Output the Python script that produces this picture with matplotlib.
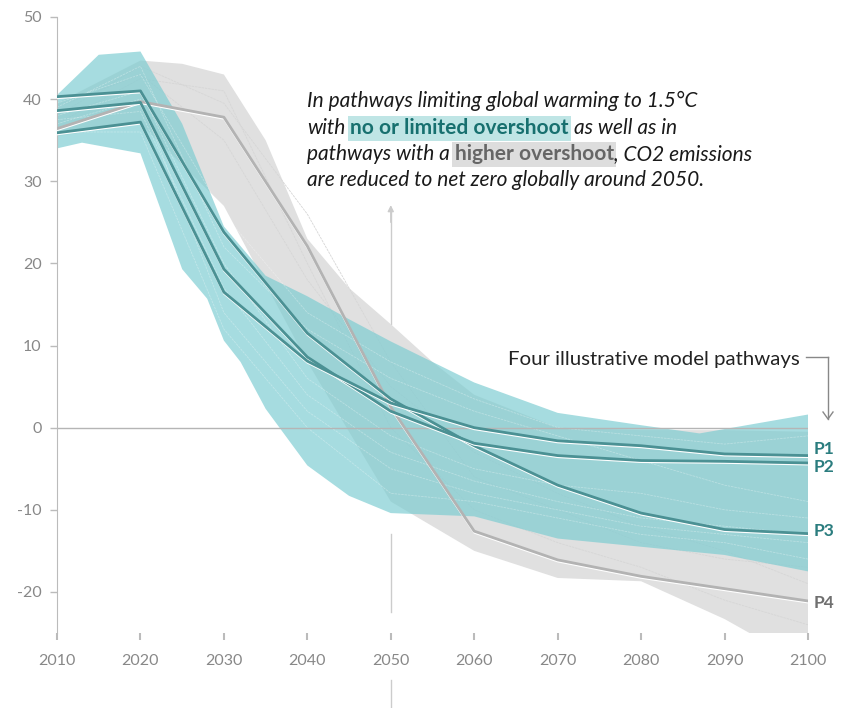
import matplotlib
matplotlib.use("Agg")
import matplotlib.pyplot as plt
import matplotlib.patheffects as pe
import numpy as np

plt.rcParams['font.family'] = ['Lato', 'DejaVu Sans']
plt.rcParams['axes.unicode_minus'] = False

# --- data (GtCO2 / yr) ---
years = [2010, 2020, 2030, 2040, 2050, 2060, 2070, 2080, 2090, 2100]

p1 = [35.9, 37.2, 16.5, 8.1, 3.0, 0.0, -1.6, -2.2, -3.2, -3.4]
p2 = [38.6, 39.6, 19.3, 8.6, 2.0, -1.9, -3.4, -4.0, -4.1, -4.3]
p3 = [40.3, 41.0, 23.8, 11.5, 3.5, -2.2, -7.0, -10.4, -12.4, -12.9]
p4 = [36.4, 39.7, 37.8, 22.1, 2.5, -12.6, -16.1, -18.1, -19.6, -21.1]

# envelope of pathways with no or limited overshoot
teal_up_years = [2010, 2015, 2020, 2025, 2030, 2035, 2040, 2045, 2050, 2055, 2060, 2070, 2080, 2087, 2100]
teal_up = [40.5, 45.4, 45.8, 37.0, 24.5, 18.5, 16.0, 13.2, 10.5, 8.0, 5.5, 1.8, 0.3, -0.7, 1.6]
teal_lo_years = [2010, 2013, 2020, 2025, 2028, 2030, 2032, 2035, 2040, 2045, 2050, 2060, 2070, 2080, 2090, 2100]
teal_lo = [34.0, 34.7, 33.4, 19.3, 15.7, 10.6, 8.0, 2.3, -4.6, -8.3, -10.4, -10.8, -13.5, -14.5, -15.5, -17.5]

# envelope of pathways with higher overshoot
gray_up_years = [2010, 2020, 2025, 2030, 2035, 2040, 2045, 2050, 2055, 2060, 2070, 2080, 2090, 2100]
gray_up = [39.5, 44.7, 44.3, 43.0, 35.0, 23.0, 17.0, 12.6, 8.0, 4.0, 0.0, -0.3, -0.3, -0.5]
gray_lo_years = [2010, 2020, 2030, 2040, 2050, 2060, 2070, 2080, 2090, 2100]
gray_lo = [35.5, 37.0, 27.0, 8.0, -9.0, -15.0, -18.3, -18.7, -23.3, -29.0]

# a few of the faint individual pathways inside the bands
gray_faint = [
    [38.0, 44.0, 39.5, 26.0, 8.0, -6.0, -10.0, -14.0, -16.0, -17.0],
    [37.0, 42.5, 41.0, 20.0, 0.0, -10.0, -14.0, -17.0, -21.0, -24.0],
    [39.0, 43.0, 35.0, 18.0, 5.0, -3.0, -8.0, -12.0, -15.0, -19.0],
]
teal_faint = [
    [39.0, 44.0, 22.0, 12.0, 6.0, 2.0, -1.0, -4.0, -7.0, -9.0],
    [37.0, 40.0, 14.0, 2.0, -5.0, -8.0, -10.0, -12.0, -13.0, -14.0],
    [36.0, 36.0, 12.0, 0.0, -8.0, -9.0, -11.0, -13.0, -14.0, -16.0],
    [39.5, 43.0, 26.0, 14.0, 8.0, 3.5, 0.0, -1.0, -2.0, -1.0],
    [38.0, 41.0, 20.0, 6.0, -1.0, -5.0, -7.0, -8.0, -10.0, -11.0],
    [37.5, 38.5, 17.0, 4.0, -3.0, -6.5, -9.0, -11.0, -12.0, -13.0],
]

x_ticks = [2010, 2020, 2030, 2040, 2050, 2060, 2070, 2080, 2090, 2100]
y_ticks = [-20, -10, 0, 10, 20, 30, 40, 50]

W, H = 851, 708
fig = plt.figure(figsize=(W / 100, H / 100), dpi=100)
ax = fig.add_axes([57 / W, 1 - 633 / H, (808 - 57) / W, (633 - 17) / H])
ax.set_xlim(2010, 2100)
ax.set_ylim(-25, 50)

# bands
gx = np.concatenate([gray_up_years, gray_lo_years[::-1]])
gy = np.concatenate([gray_up, gray_lo[::-1]])
tx = np.concatenate([teal_up_years, teal_lo_years[::-1]])
ty = np.concatenate([teal_up, teal_lo[::-1]])

ax.fill(tx, ty, color='white', lw=0, zorder=0.8)
ax.fill(gx, gy, color='#e0e0e0', lw=0, zorder=1)
for s in gray_faint:
    ax.plot(years, s, color='#d6d6d6', lw=0.6, ls=(0, (3, 1)), zorder=1.1)

ax.fill(tx, ty, color='#7accd1', alpha=0.67, lw=0, zorder=2)
for s in teal_faint:
    ax.plot(years, s, color='white', lw=0.6, alpha=0.3, ls=(0, (3, 1)), zorder=2.1)

# zero line
ax.axhline(0, color='#b5b5b5', lw=1, zorder=2.5)

# 2050 marker: two visible pieces (below and above the bands) plus arrow head
ax.plot([2050, 2050], [-22.4, -13.0], color='#cccccc', lw=1, zorder=0.5)
ax.plot([2050, 2050], [12.6, 26.5], color='#cccccc', lw=1, zorder=0.5)
ax.annotate('', xy=(2050, 27.1), xytext=(2050, 25.0),
            arrowprops=dict(arrowstyle='-|>', color='#cccccc', lw=1, mutation_scale=9,
                            shrinkA=0, shrinkB=0))
fig.add_artist(plt.Line2D([391 / W, 391 / W], [1 - 680 / H, 0], color='#cccccc', lw=1))

# illustrative pathways
shadow = [pe.Stroke(linewidth=1.2, foreground='white', offset=(0, -1.2)), pe.Normal()]
ax.plot(years, p4, color='#b3b3b3', lw=2, zorder=3, path_effects=shadow)
for s in (p3, p2, p1):
    ax.plot(years, s, color='#4b9194', lw=2, zorder=3.5, path_effects=shadow)

labels = [('P1', p1, 5, '#2b7d7f'), ('P2', p2, -3, '#2b7d7f'),
          ('P3', p3, 2, '#2b7d7f'), ('P4', p4, -1.5, '#707070')]
for name, s, dy, c in labels:
    ax.annotate(name, xy=(2100, s[-1]), xytext=(4, dy), textcoords='offset points',
                va='center', ha='left', fontsize=12.5, fontweight='bold', color=c,
                annotation_clip=False)

# axes styling
for side in ('top', 'right', 'bottom'):
    ax.spines[side].set_visible(False)
ax.spines['left'].set_color('#bbbbbb')
ax.set_xticks(x_ticks)
ax.set_yticks(y_ticks)
ax.set_xticklabels([str(v) for v in x_ticks])
ax.set_yticklabels([str(v) for v in y_ticks])
ax.tick_params(axis='x', length=5, width=1.5, color='#bbbbbb', labelcolor='#888888',
               labelsize=11.5, pad=10)
ax.tick_params(axis='y', length=5, width=1, color='#bbbbbb', labelcolor='#888888',
               labelsize=11.5, pad=6)

# annotation text with highlighted phrases
renderer = fig.canvas.get_renderer()
fs = 15


def width(s, **kw):
    t = fig.text(0, 0, s, fontsize=fs, **kw)
    w = t.get_window_extent(renderer).width
    t.remove()
    return w


sp = width('n n', style='italic') - width('nn', style='italic')


def put(x, y, s, **kw):
    t = fig.text(x / W, 1 - y / H, s, va='baseline', ha='left', fontsize=fs, **kw)
    return x + t.get_window_extent(renderer).width


it = dict(style='italic', color='#1a1a1a')
x0 = 307
put(x0, 107, 'In pathways limiting global warming to 1.5°C', **it)
x = put(x0, 134, 'with', **it) + sp
x = put(x, 134, 'no or limited overshoot', fontweight='bold', color='#17706f',
        bbox=dict(boxstyle='square,pad=0.12', fc='#bfe5e5', ec='none')) + sp
put(x, 134, 'as well as in', **it)
x = put(x0, 160, 'pathways with a', **it) + sp
x = put(x, 160, 'higher overshoot', fontweight='bold', color='#666666',
        bbox=dict(boxstyle='square,pad=0.12', fc='#dddddd', ec='none'))
put(x, 160, ', CO2 emissions', **it)
put(x0, 186, 'are reduced to net zero globally around 2050.', **it)

# "Four illustrative model pathways" with bent arrow
fig.text(800 / W, 1 - 365 / H, 'Four illustrative model pathways', ha='right',
         va='baseline', fontsize=14.7, color='#222222')
fig.add_artist(plt.Line2D([806 / W, 828 / W], [1 - 357 / H, 1 - 357 / H],
                          color='#888888', lw=1))
fig.add_artist(plt.Line2D([828 / W, 828 / W], [1 - 357 / H, 1 - 419 / H],
                          color='#888888', lw=1))
fig.add_artist(plt.Line2D([823 / W, 828 / W, 833 / W], [1 - 412 / H, 1 - 419 / H, 1 - 412 / H],
                          color='#888888', lw=1))

fig.savefig('out.png', dpi=100)
